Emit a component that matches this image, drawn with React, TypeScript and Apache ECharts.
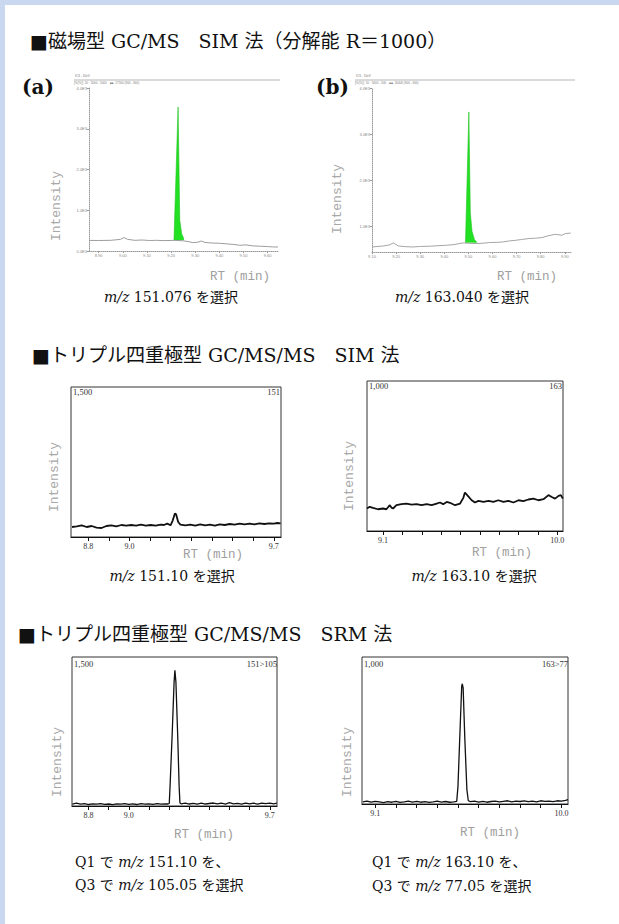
import React, { useEffect, useRef } from 'react';
import * as echarts from 'echarts';

// ---------- Data ----------
// (a) magnetic sector, m/z 151.076
const magA_baseRT = [8.862, 8.9, 8.95, 8.99, 9.005, 9.02, 9.05, 9.08, 9.11, 9.14, 9.17, 9.2, 9.212, 9.25, 9.27, 9.29, 9.31, 9.326, 9.34, 9.37, 9.4, 9.43, 9.46, 9.485, 9.51, 9.54, 9.57, 9.6, 9.62, 9.643];
const magA_baseInt = [260, 258, 262, 285, 329, 285, 262, 270, 258, 262, 255, 258, 263, 250, 232, 206, 215, 245, 210, 195, 190, 175, 160, 140, 150, 125, 118, 108, 100, 98];
const magA_peakRT = [9.212, 9.229, 9.236, 9.244, 9.253];
const magA_peakInt = [263, 3534, 753, 420, 300];
const magA_xTicks = [8.9, 9.0, 9.1, 9.2, 9.3, 9.4, 9.5, 9.6];
const magA_yTicks = [0, 1000, 2000, 3000, 4000];

// (b) magnetic sector, m/z 163.040
const magB_baseRT = [9.102, 9.148, 9.17, 9.189, 9.209, 9.24, 9.271, 9.3, 9.34, 9.37, 9.409, 9.44, 9.477, 9.532, 9.56, 9.587, 9.62, 9.642, 9.67, 9.697, 9.72, 9.751, 9.78, 9.806, 9.83, 9.861, 9.888, 9.902, 9.925];
const magB_baseInt = [559, 581, 600, 646, 581, 565, 559, 570, 575, 585, 596, 610, 646, 633, 640, 654, 660, 667, 690, 704, 720, 741, 750, 762, 800, 834, 812, 849, 860];
const magB_peakRT = [9.488, 9.502, 9.508, 9.515, 9.525, 9.535];
const magB_peakInt = [650, 3482, 1300, 900, 720, 660];
const magB_xTicks = [9.1, 9.2, 9.3, 9.4, 9.5, 9.6, 9.7, 9.8, 9.9];
const magB_yTicks = [1000, 2000, 3000, 4000];

// Triple quad SIM m/z 151.10
const sim1RT = [8.721, 8.744, 8.768, 8.792, 8.816, 8.84, 8.864, 8.888, 8.912, 8.936, 8.96, 8.984, 9.008, 9.032, 9.055, 9.079, 9.103, 9.127, 9.151, 9.167, 9.183, 9.199, 9.21, 9.22, 9.226, 9.236, 9.247, 9.271, 9.295, 9.319, 9.343, 9.367, 9.39, 9.414, 9.438, 9.462, 9.486, 9.51, 9.534, 9.558, 9.582, 9.606, 9.63, 9.654, 9.677, 9.701, 9.717, 9.733];
const sim1Int = [100, 107, 117, 100, 110, 94, 90, 110, 117, 107, 120, 114, 120, 114, 124, 114, 120, 114, 124, 120, 134, 117, 167, 234, 227, 150, 124, 117, 124, 114, 127, 117, 124, 114, 127, 120, 130, 124, 134, 127, 134, 127, 137, 130, 137, 134, 140, 136];

// Triple quad SIM m/z 163.10
const sim2RT = [9.017, 9.031, 9.048, 9.074, 9.1, 9.117, 9.135, 9.143, 9.152, 9.169, 9.195, 9.221, 9.247, 9.273, 9.299, 9.325, 9.351, 9.377, 9.394, 9.411, 9.429, 9.446, 9.472, 9.498, 9.515, 9.523, 9.535, 9.558, 9.575, 9.593, 9.619, 9.645, 9.67, 9.696, 9.722, 9.748, 9.774, 9.8, 9.825, 9.851, 9.877, 9.903, 9.929, 9.955, 9.972, 9.989, 10.007, 10.019, 10.029];
const sim2Int = [150, 161, 154, 145, 150, 145, 172, 156, 150, 172, 179, 183, 176, 179, 172, 179, 172, 183, 190, 179, 194, 188, 172, 183, 221, 256, 239, 205, 190, 201, 194, 201, 194, 205, 194, 201, 190, 205, 199, 210, 216, 205, 212, 239, 227, 216, 234, 239, 216];

// Triple quad SRM 151>105
const srm1RT = [8.72, 8.74, 8.76, 8.78, 8.8, 8.82, 8.84, 8.86, 8.88, 8.9, 8.92, 8.94, 8.96, 8.98, 9.0, 9.02, 9.04, 9.06, 9.08, 9.1, 9.12, 9.14, 9.16, 9.18, 9.195, 9.201, 9.205, 9.215, 9.225, 9.229, 9.234, 9.243, 9.25, 9.254, 9.26, 9.28, 9.3, 9.32, 9.34, 9.36, 9.38, 9.4, 9.42, 9.44, 9.46, 9.48, 9.5, 9.52, 9.54, 9.56, 9.58, 9.6, 9.62, 9.64, 9.66, 9.68, 9.7, 9.72, 9.735];
const srm1Int = [20, 28, 18, 25, 15, 22, 18, 24, 16, 20, 14, 22, 18, 25, 17, 22, 15, 24, 18, 21, 16, 25, 18, 22, 20, 25, 200, 700, 1250, 1366, 1250, 700, 200, 30, 22, 28, 20, 26, 18, 28, 20, 25, 30, 22, 28, 20, 33, 22, 26, 18, 30, 22, 28, 20, 30, 24, 28, 22, 30];

// Triple quad SRM 163>77
const srm2RT = [9.04, 9.06, 9.08, 9.1, 9.12, 9.14, 9.16, 9.18, 9.2, 9.22, 9.24, 9.26, 9.28, 9.3, 9.32, 9.34, 9.36, 9.38, 9.4, 9.42, 9.44, 9.46, 9.48, 9.494, 9.5, 9.51, 9.518, 9.521, 9.525, 9.533, 9.543, 9.55, 9.56, 9.58, 9.6, 9.62, 9.64, 9.66, 9.68, 9.7, 9.72, 9.74, 9.76, 9.78, 9.8, 9.82, 9.84, 9.86, 9.88, 9.9, 9.92, 9.94, 9.96, 9.98, 10.0, 10.02, 10.032];
const srm2Int = [15, 20, 12, 18, 14, 10, 16, 12, 18, 11, 15, 20, 13, 18, 12, 16, 11, 14, 20, 13, 17, 12, 15, 18, 120, 500, 800, 818, 790, 450, 100, 22, 16, 20, 13, 18, 12, 17, 20, 14, 18, 22, 15, 20, 17, 22, 16, 20, 15, 22, 18, 20, 16, 22, 20, 25, 30];

const ticks151 = [8.8, 8.9, 9.0, 9.1, 9.2, 9.3, 9.4, 9.5, 9.6, 9.7];
const labels151 = [8.8, 9.0, 9.7];
const ticks163 = [9.1, 9.2, 9.3, 9.4, 9.5, 9.6, 9.7, 9.8, 9.9, 10.0];
const labels163 = [9.1, 10.0];

// ---------- Styles ----------
const SERIF = '"Liberation Serif", "DejaVu Serif", "Noto Sans CJK JP", serif';
const WIDE = '"DejaVu Serif", "Noto Sans CJK JP", serif';
const MONO = '"Liberation Mono", "DejaVu Sans Mono", monospace';

const pairs = (x: number[], y: number[]) => x.map((v, i) => [v, y[i]]);

function boxX(gridIndex: number, min: number, max: number, ticks: number[], labels: number[]) {
  return {
    type: 'value', gridIndex, min, max,
    axisLine: { show: true, onZero: false, lineStyle: { color: '#111', width: 1.2 } },
    axisTick: { show: true, customValues: ticks, length: 4, inside: false, lineStyle: { color: '#111' } },
    axisLabel: { customValues: labels, fontSize: 8, fontFamily: SERIF, color: '#333', margin: 5, formatter: (v: number) => v.toFixed(1) },
    splitLine: { show: false },
  };
}
function boxY(gridIndex: number, max: number) {
  return { type: 'value', gridIndex, min: 0, max, show: false, splitLine: { show: false } };
}
function magX(gridIndex: number, min: number, max: number, ticks: number[]) {
  return {
    type: 'value', gridIndex, min, max,
    axisLine: { show: true, onZero: false, lineStyle: { color: '#9a9a9a', width: 1, type: 'dotted' } },
    axisTick: { show: true, customValues: ticks, length: 2, lineStyle: { color: '#999' } },
    axisLabel: { customValues: ticks, fontSize: 4, color: '#888', margin: 2, formatter: (v: number) => v.toFixed(2) },
    splitLine: { show: false },
  };
}
function magY(gridIndex: number, min: number, max: number, ticks: number[]) {
  return {
    type: 'value', gridIndex, min, max,
    axisLine: { show: true, onZero: false, lineStyle: { color: '#9a9a9a', width: 1, type: 'dotted' } },
    axisTick: { show: true, customValues: ticks, length: 2, lineStyle: { color: '#999' } },
    axisLabel: { customValues: ticks, fontSize: 4, color: '#888', margin: 2, formatter: (v: number) => (v / 1000).toFixed(1) + 'E3' },
    splitLine: { show: false },
  };
}

function txt(text: string, x: number, y: number, o: any = {}) {
  return {
    type: 'text', x, y, rotation: o.rotation || 0,
    style: {
      text, x: 0, y: 0,
      fontSize: o.fontSize || 14, fontFamily: o.fontFamily || SERIF, fontWeight: o.fontWeight || 'normal',
      fill: o.fill || '#111', align: o.align || 'left', verticalAlign: 'middle',
      rich: o.rich,
    },
  };
}
const richMZ = (fs: number) => ({ i: { fontStyle: 'italic', fontSize: fs, fontFamily: WIDE, fill: '#111' } });

const lineSeries = (xi: number, data: number[][], color = '#111', width = 1.3) => ({
  type: 'line', xAxisIndex: xi, yAxisIndex: xi, data, showSymbol: false, symbol: 'none',
  lineStyle: { color, width }, silent: true,
});

const CAP = 14;
const TITLE = 19;
const cap = { fontSize: CAP, fontFamily: WIDE, rich: richMZ(CAP) };

export default function App() {
  const ref = useRef<HTMLDivElement>(null);
  useEffect(() => {
    if (!ref.current) return;
    const chart = echarts.init(ref.current, null, { renderer: 'svg' });
    const graphic: any[] = [
      { type: 'rect', shape: { x: 0, y: 0, width: 619, height: 5 }, style: { fill: '#c9d8ee' } },
      { type: 'rect', shape: { x: 0, y: 0, width: 5, height: 924 }, style: { fill: '#c9d8ee' } },
      txt('■磁場型 GC/MS　SIM 法（分解能 R＝1000）', 30, 41, { fontSize: TITLE, fontFamily: WIDE }),
      txt('(a)', 22, 87, { fontSize: 20, fontWeight: 'bold', fontFamily: WIDE }),
      txt('(b)', 316, 87, { fontSize: 20, fontWeight: 'bold', fontFamily: WIDE }),
      // panel (a) header
      { type: 'line', shape: { x1: 74, y1: 80, x2: 280, y2: 80 }, style: { stroke: '#b5b5b5', lineWidth: 1 } },
      txt('ICS - 10eV', 75, 76, { fontSize: 3, fill: '#777', fontFamily: 'Liberation Sans' }),
      txt('[%(%)]  10 · 5000 - 5000    ■■  17500 (900 - 900)', 74, 83, { fontSize: 3, fill: '#777', fontFamily: 'Liberation Sans' }),
      // panel (b) header
      { type: 'line', shape: { x1: 355, y1: 80, x2: 575, y2: 80 }, style: { stroke: '#b5b5b5', lineWidth: 1 } },
      txt('ICS - 10eV', 356, 76, { fontSize: 3, fill: '#777', fontFamily: 'Liberation Sans' }),
      txt('[%(%)]  10 · 5000 - 500    ■■  16400 (900 - 900)', 355, 83, { fontSize: 3, fill: '#777', fontFamily: 'Liberation Sans' }),
      txt('Intensity', 56, 206, { fontSize: 13, fontFamily: MONO, fill: '#a8a8a8', align: 'center', rotation: Math.PI / 2 }),
      txt('Intensity', 337, 199, { fontSize: 13, fontFamily: MONO, fill: '#a8a8a8', align: 'center', rotation: Math.PI / 2 }),
      txt('RT (min)', 240, 277, { fontSize: 12.5, fontFamily: MONO, fill: '#a0a0a0', align: 'center' }),
      txt('RT (min)', 527, 277, { fontSize: 12.5, fontFamily: MONO, fill: '#a0a0a0', align: 'center' }),
      txt('{i|m/z} 151.076 を選択', 171, 297, { ...cap, align: 'center' }),
      txt('{i|m/z} 163.040 を選択', 462, 297, { ...cap, align: 'center' }),

      txt('■トリプル四重極型 GC/MS/MS　SIM 法', 32, 355, { fontSize: TITLE, fontFamily: WIDE }),
      txt('1,500', 73, 392, { fontSize: 8.5, fill: '#333' }),
      txt('151', 280, 392, { fontSize: 8.5, fill: '#333', align: 'right' }),
      txt('1,000', 369, 386, { fontSize: 8.5, fill: '#333' }),
      txt('163', 562, 386, { fontSize: 8.5, fill: '#333', align: 'right' }),
      txt('Intensity', 54, 477, { fontSize: 13, fontFamily: MONO, fill: '#a8a8a8', align: 'center', rotation: Math.PI / 2 }),
      txt('Intensity', 349, 476, { fontSize: 13, fontFamily: MONO, fill: '#a8a8a8', align: 'center', rotation: Math.PI / 2 }),
      txt('RT (min)', 213, 555, { fontSize: 12.5, fontFamily: MONO, fill: '#a0a0a0', align: 'center' }),
      txt('RT (min)', 502, 553, { fontSize: 12.5, fontFamily: MONO, fill: '#a0a0a0', align: 'center' }),
      txt('{i|m/z} 151.10 を選択', 172, 576, { ...cap, align: 'center' }),
      txt('{i|m/z} 163.10 を選択', 474, 576, { ...cap, align: 'center' }),

      txt('■トリプル四重極型 GC/MS/MS　SRM 法', 18, 634, { fontSize: TITLE, fontFamily: WIDE }),
      txt('1,500', 74, 664, { fontSize: 8.5, fill: '#333' }),
      txt('151>105', 277, 664, { fontSize: 8.5, fill: '#333', align: 'right' }),
      txt('1,000', 364, 664, { fontSize: 8.5, fill: '#333' }),
      txt('163>77', 568, 664, { fontSize: 8.5, fill: '#333', align: 'right' }),
      txt('Intensity', 57, 762, { fontSize: 13, fontFamily: MONO, fill: '#a8a8a8', align: 'center', rotation: Math.PI / 2 }),
      txt('Intensity', 347, 762, { fontSize: 13, fontFamily: MONO, fill: '#a8a8a8', align: 'center', rotation: Math.PI / 2 }),
      txt('RT (min)', 204, 835, { fontSize: 12.5, fontFamily: MONO, fill: '#a0a0a0', align: 'center' }),
      txt('RT (min)', 490, 833, { fontSize: 12.5, fontFamily: MONO, fill: '#a0a0a0', align: 'center' }),
      txt('Q1 で {i|m/z} 151.10 を、', 75, 862, cap),
      txt('Q3 で {i|m/z} 105.05 を選択', 75, 885, cap),
      txt('Q1 で {i|m/z} 163.10 を、', 372, 862, cap),
      txt('Q3 で {i|m/z} 77.05 を選択', 372, 886, cap),
    ];

    const boxGrid = (left: number, top: number, width: number, height: number) => ({
      left, top, width, height, show: true, borderColor: '#333', borderWidth: 1, backgroundColor: 'transparent',
    });

    const option: any = {
      animation: false,
      backgroundColor: '#ffffff',
      grid: [
        { left: 89, top: 88, width: 190, height: 163 },
        { left: 372, top: 88, width: 200, height: 164 },
        boxGrid(71, 387, 210, 150),
        boxGrid(367, 381, 196, 150),
        boxGrid(72, 657, 205, 149),
        boxGrid(362, 657, 206, 147),
      ],
      xAxis: [
        magX(0, 8.86, 9.647, magA_xTicks),
        magX(1, 9.1, 9.93, magB_xTicks),
        boxX(2, 8.716, 9.735, ticks151, labels151),
        boxX(3, 9.017, 10.03, ticks163, labels163),
        boxX(4, 8.718, 9.736, ticks151, labels151),
        boxX(5, 9.036, 10.032, ticks163, labels163),
      ],
      yAxis: [
        magY(0, 0, 4000, magA_yTicks),
        magY(1, 450, 4000, magB_yTicks),
        boxY(2, 1500),
        boxY(3, 1000),
        boxY(4, 1500),
        boxY(5, 1000),
      ],
      series: [
        lineSeries(0, pairs(magA_baseRT, magA_baseInt), '#9c9c9c', 1),
        {
          type: 'line', xAxisIndex: 0, yAxisIndex: 0, data: pairs(magA_peakRT, magA_peakInt), showSymbol: false, symbol: 'none',
          lineStyle: { color: '#1fc21f', width: 0.6 }, areaStyle: { color: '#22e022', opacity: 1, origin: 263 },
        },
        lineSeries(1, pairs(magB_baseRT, magB_baseInt), '#a5a5a5', 1),
        {
          type: 'line', xAxisIndex: 1, yAxisIndex: 1, data: pairs(magB_peakRT, magB_peakInt), showSymbol: false, symbol: 'none',
          lineStyle: { color: '#1fc21f', width: 0.6 }, areaStyle: { color: '#22e022', opacity: 1, origin: 650 },
        },
        lineSeries(2, pairs(sim1RT, sim1Int), '#111', 1.8),
        lineSeries(3, pairs(sim2RT, sim2Int), '#111', 1.8),
        lineSeries(4, pairs(srm1RT, srm1Int), '#111', 1.3),
        lineSeries(5, pairs(srm2RT, srm2Int), '#111', 1.3),
      ],
      graphic,
    };
    chart.setOption(option);
    return () => chart.dispose();
  }, []);
  return <div ref={ref} style={{ position: 'absolute', left: 0, top: 0, width: 619, height: 924, background: '#fff' }} />;
}
